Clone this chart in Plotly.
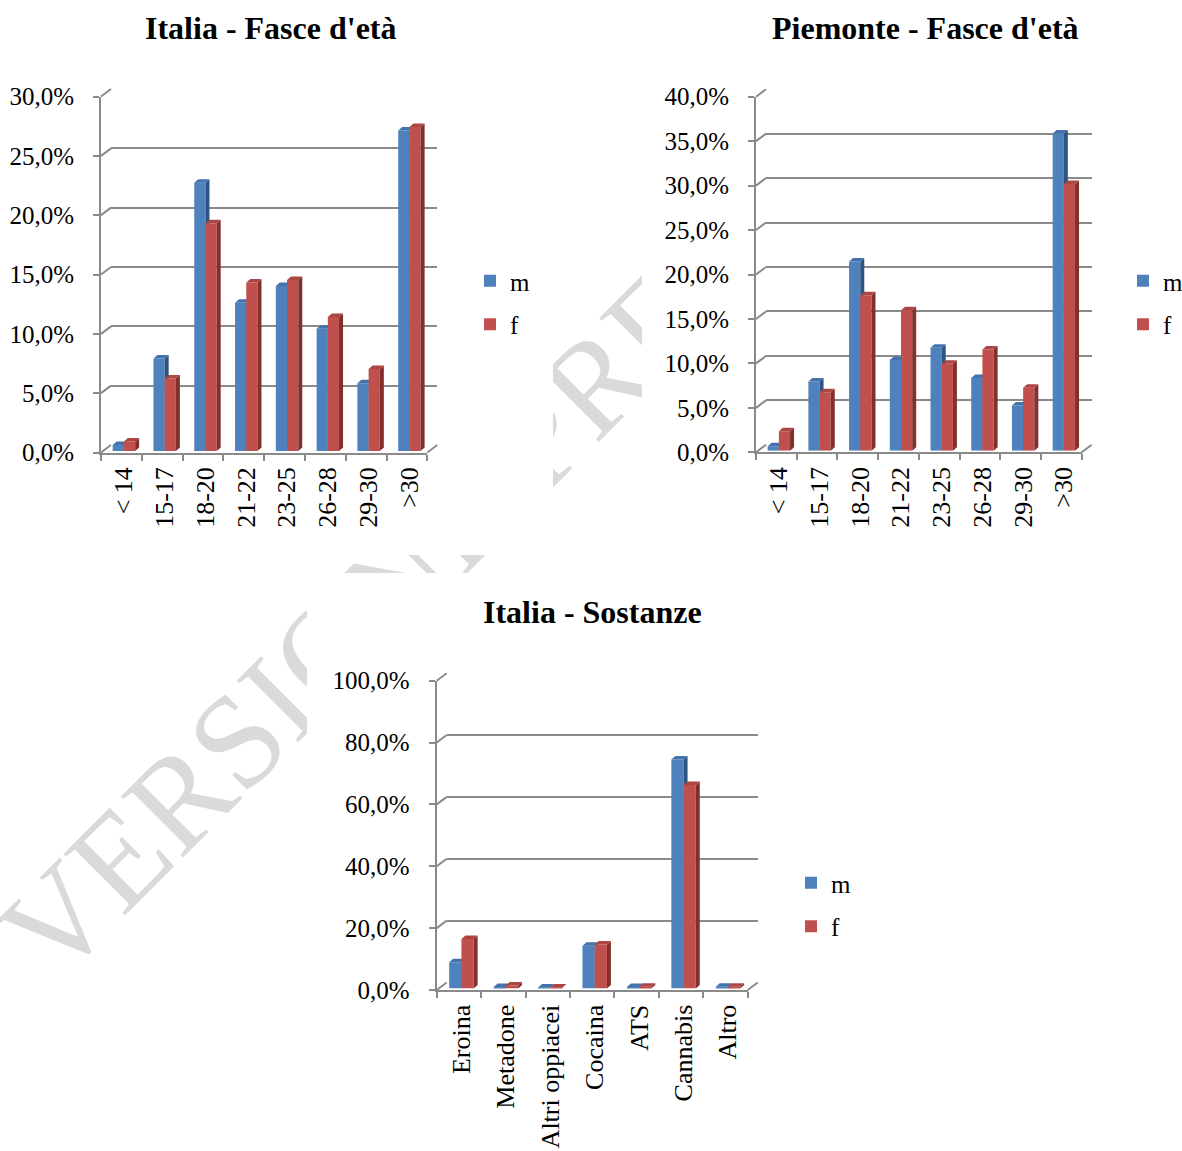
import plotly.graph_objects as go

# ---- data (percentages) ----
eta_labels = ["< 14", "15-17", "18-20", "21-22", "23-25", "26-28", "29-30", ">30"]
italia_m = [0.5, 7.8, 22.6, 12.5, 13.9, 10.3, 5.7, 27.0]
italia_f = [0.8, 6.1, 19.2, 14.2, 14.4, 11.3, 6.9, 27.3]
piemonte_m = [0.5, 7.8, 21.3, 10.2, 11.6, 8.2, 5.1, 35.7]
piemonte_f = [2.2, 6.6, 17.5, 15.8, 9.8, 11.4, 7.1, 30.0]
sostanze_labels = ["Eroina", "Metadone", "Altri oppiacei", "Cocaina", "ATS", "Cannabis", "Altro"]
sostanze_m = [8.5, 0.5, 0.3, 13.8, 0.5, 74.0, 0.6]
sostanze_f = [16.0, 1.0, 0.3, 14.2, 0.6, 65.8, 0.6]
series_names = ["m", "f"]

# ---- page geometry / style ----
W, H = 1182, 1151
FONT = "Liberation Serif"
COLORS = {"m": ("#4F81BD", "#4472AC", "#2E5483"), "f": ("#C0504D", "#AD4643", "#832F2C")}
GRID = "#8A8A8A"
BW = 0.275                   # bar width in category units
BACK_DX, BACK_DY = 10, -7.5  # back wall offset (px)
BAR_DX, BAR_DY = 2.5, -1.5   # bar row offset (px)
DEPTH_DX, DEPTH_DY = 4, -3.5 # bar depth (px)

panels = [
    dict(title="Italia - Fasce d'età", cats=eta_labels, vals=[italia_m, italia_f], ymax=30, dtick=5,
         box=(101, 427.3, 452.5, 96.5), title_pos=(271, 28), legend_pos=(470, 258)),
    dict(title="Piemonte - Fasce d'età", cats=eta_labels, vals=[piemonte_m, piemonte_f], ymax=40, dtick=5,
         box=(756, 1081.7, 452.3, 96.7), title_pos=(925, 28), legend_pos=(1123, 258)),
    dict(title="Italia - Sostanze", cats=sostanze_labels, vals=[sostanze_m, sostanze_f], ymax=100, dtick=20,
         box=(436.7, 747.7, 990, 680.7), title_pos=(592, 612), legend_pos=(791, 860)),
]


def fx(px):
    return px / W


def fy(py):
    return 1 - py / H


def ax_names(n):
    s = "" if n == 1 else str(n)
    return "x" + s, "y" + s, "xaxis" + s, "yaxis" + s


fig = go.Figure()
layout = {}
shapes = []
annotations = []

# watermark behind the chart boxes
wm_x, wm_y = 573, 384
shapes.append(dict(type="rect", xref="paper", yref="paper", layer="below",
                   x0=fx(wm_x - 5), x1=fx(wm_x + 5), y0=fy(wm_y + 5), y1=fy(wm_y - 5),
                   line=dict(width=0), fillcolor="rgba(0,0,0,0)",
                   label=dict(text="VERSIONE PRELIMINARE", textangle=-45, textposition="middle center",
                              padding=0, font=dict(family=FONT, size=133, color="#DADADA"))))
# white chart boxes
for (bx0, by0, bx1, by1) in [(0, 0, 553, 555), (642, 0, W, 555), (307, 573, W, H)]:
    shapes.append(dict(type="rect", xref="paper", yref="paper", layer="below",
                       x0=fx(bx0), x1=fx(bx1), y0=fy(by1), y1=fy(by0),
                       line=dict(width=0), fillcolor="white"))

for i, p in enumerate(panels):
    x0, x1, y0, y1 = p["box"]
    nc = len(p["cats"])
    ymax, dtick = p["ymax"], p["dtick"]
    ppc = (x1 - x0) / nc          # px per category
    ppv = (y0 - y1) / ymax        # px per value unit
    ddx, ddy = DEPTH_DX / ppc, -DEPTH_DY / ppv
    idx = list(range(nc))
    legend_name = "legend" if i == 0 else f"legend{i + 1}"
    base = 4 * i + 1

    # front axes: axis lines, ticks, value labels
    xs, ys, xk, yk = ax_names(base)
    layout[xk] = dict(domain=[fx(x0), fx(x1)], range=[-0.5, nc - 0.5], anchor=ys,
                      showline=True, linecolor=GRID, linewidth=2, ticks="outside", ticklen=6,
                      tickwidth=2, tickcolor=GRID, tickvals=[k - 0.5 for k in range(nc + 1)],
                      showticklabels=False, showgrid=False, zeroline=False, fixedrange=True,
                      automargin=False)
    layout[yk] = dict(domain=[fy(y0), fy(y1)], range=[0, ymax], anchor=xs,
                      showline=True, linecolor=GRID, linewidth=2, ticks="outside", ticklen=6,
                      tickwidth=2, tickcolor=GRID, dtick=dtick, tick0=0, tickformat=".1f",
                      ticksuffix="%", tickfont=dict(family=FONT, size=25, color="black"),
                      ticklabelstandoff=14, showgrid=False, zeroline=False, fixedrange=True,
                      automargin=False)
    fig.add_trace(go.Scatter(x=[None], y=[None], xaxis=xs, yaxis=ys, showlegend=False,
                             hoverinfo="skip"))

    # back wall: gridlines
    xs, ys, xk, yk = ax_names(base + 1)
    layout[xk] = dict(domain=[fx(x0 + BACK_DX), fx(x1 + BACK_DX)], range=[-0.5, nc - 0.5],
                      anchor=ys, visible=False, fixedrange=True, automargin=False)
    layout[yk] = dict(domain=[fy(y0 + BACK_DY), fy(y1 + BACK_DY)], range=[0, ymax], anchor=xs,
                      showgrid=True, gridcolor=GRID, gridwidth=2, dtick=dtick, tick0=0,
                      showticklabels=False, ticks="", showline=False, zeroline=False,
                      fixedrange=True, automargin=False)
    fig.add_trace(go.Scatter(x=[None], y=[None], xaxis=xs, yaxis=ys, showlegend=False,
                             hoverinfo="skip"))

    # connectors from the front axis to the back wall
    nt = int(round(ymax / dtick))
    for k in range(nt + 1):
        py = y0 - k * dtick * ppv
        shapes.append(dict(type="line", xref="paper", yref="paper",
                           x0=fx(x0), y0=fy(py), x1=fx(x0 + BACK_DX), y1=fy(py + BACK_DY),
                           line=dict(color=GRID, width=2)))
    shapes.append(dict(type="line", xref="paper", yref="paper",
                       x0=fx(x1), y0=fy(y0), x1=fx(x1 + BACK_DX), y1=fy(y0 + BACK_DY),
                       line=dict(color=GRID, width=2)))

    # bars: one overlaid subplot per series so the right-hand series sits in front
    for s, (name, vals) in enumerate(zip(series_names, p["vals"])):
        front, top, side = COLORS[name]
        xs, ys, xk, yk = ax_names(base + 2 + s)
        xaxis = dict(domain=[fx(x0 + BAR_DX), fx(x1 + BAR_DX)], range=[-0.5, nc - 0.5],
                     anchor=ys, showgrid=False, zeroline=False, showline=False, ticks="",
                     fixedrange=True, automargin=False)
        if s == 0:
            xaxis.update(tickvals=idx, ticktext=p["cats"], tickangle=-90,
                         tickfont=dict(family=FONT, size=26, color="black"),
                         ticklabelstandoff=10)
        else:
            xaxis.update(showticklabels=False)
        layout[xk] = xaxis
        layout[yk] = dict(domain=[fy(y0 + BAR_DY), fy(y1 + BAR_DY)], range=[0, ymax],
                          anchor=xs, visible=False, fixedrange=True, automargin=False)

        off = -BW if s == 0 else 0.0
        fig.add_trace(go.Bar(x=idx, y=vals, width=BW, offset=off, name=name,
                             marker=dict(color=front, line=dict(width=0)),
                             xaxis=xs, yaxis=ys, legend=legend_name,
                             legendgroup=f"{name}{i}",
                             hovertemplate="%{y:.1f}%<extra>" + name + "</extra>"))
        tx, ty, sx, sy = [], [], [], []
        for k, v in zip(idx, vals):
            xa, xb = k + off, k + off + BW
            tx += [xa, xb, xb + ddx, xa + ddx, xa, None]
            ty += [v, v, v + ddy, v + ddy, v, None]
            sx += [xb, xb + ddx, xb + ddx, xb, xb, None]
            sy += [0, ddy, v + ddy, v, 0, None]
        fig.add_trace(go.Scatter(x=sx, y=sy, mode="lines", fill="toself", fillcolor=side,
                                 line=dict(width=0, color=side), xaxis=xs, yaxis=ys,
                                 showlegend=False, hoverinfo="skip"))
        fig.add_trace(go.Scatter(x=tx, y=ty, mode="lines", fill="toself", fillcolor=top,
                                 line=dict(width=0, color=top), xaxis=xs, yaxis=ys,
                                 showlegend=False, hoverinfo="skip"))

    lx, ly = p["legend_pos"]
    layout[legend_name] = dict(x=fx(lx), y=fy(ly), xanchor="left", yanchor="top",
                               bgcolor="rgba(0,0,0,0)", borderwidth=0,
                               font=dict(family=FONT, size=25, color="black"),
                               traceorder="grouped", tracegroupgap=8)

    tx_, ty_ = p["title_pos"]
    annotations.append(dict(text="<b>" + p["title"] + "</b>", x=fx(tx_), y=fy(ty_),
                            xref="paper", yref="paper", xanchor="center", yanchor="middle",
                            showarrow=False, font=dict(family=FONT, size=32, color="black")))

fig.update_layout(
    width=W, height=H, margin=dict(l=0, r=0, t=0, b=0, pad=0, autoexpand=False),
    paper_bgcolor="white", plot_bgcolor="rgba(0,0,0,0)",
    barmode="overlay", separators=",.", shapes=shapes, annotations=annotations,
    font=dict(family=FONT, color="black"), hovermode="closest",
    **layout,
)

fig.write_html("out.html")
